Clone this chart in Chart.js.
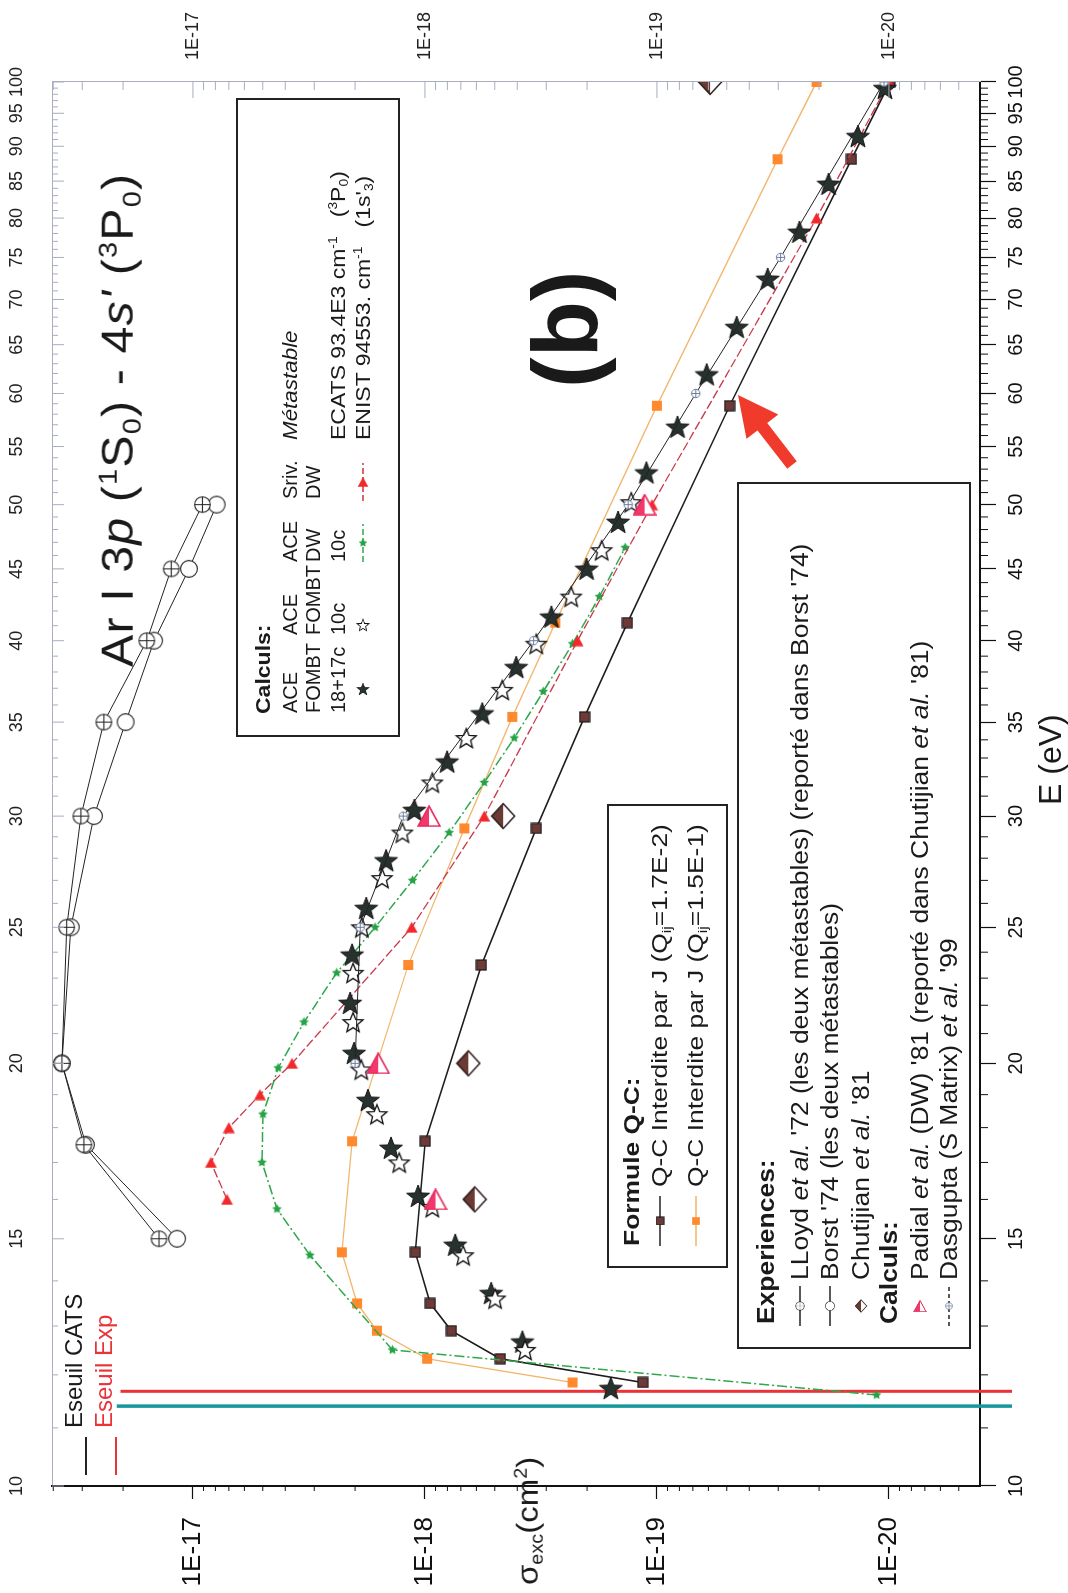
<!DOCTYPE html>
<html>
<head>
<meta charset="utf-8">
<script src="https://cdn.jsdelivr.net/npm/chart.js@4.4.1/dist/chart.umd.min.js"></script>
<style>
html, body { margin: 0; padding: 0; background: #fff; overflow: hidden; }
#page {
    position: absolute; left: 0; top: 0; width: 1593px; height: 1068px;
    transform-origin: 0 0; transform: translateY(1593px) rotate(-90deg);
    font-family: "Liberation Sans", Arial, sans-serif; color: #1a1a1a;
}
#chart { position: absolute; left: 0; top: 0; }
.t { position: absolute; white-space: nowrap; transform: translateY(-50%); transform-origin: 0 50%; line-height: 1.15; }
.box { position: absolute; border: 2px solid #222; background: #fff; }
sup { font-size: 0.6em; vertical-align: 0.6em; line-height: 0; }
sub { font-size: 0.6em; vertical-align: -0.3em; line-height: 0; }
canvas.ic { position: absolute; transform: translateY(-50%); }
</style>
</head>
<body>
<div id="page">
    <canvas id="chart" width="1593" height="1068"></canvas>
</div>
<script>
// axis ticks
const eTicks = [10, 15, 20, 25, 30, 35, 40, 45, 50, 55, 60, 65, 70, 75, 80, 85, 90, 95, 100];
const sigmaTicks = [1e-20, 1e-19, 1e-18, 1e-17];
const SMIN = 4.05e-21, SMAX = 4.05e-17;

// Experiences
const lloydE = [15, 17.5, 20, 25, 30, 35, 40, 45, 50];
const lloydSigma = [1.40e-17, 2.95e-17, 3.67e-17, 3.50e-17, 3.04e-17, 2.42e-17, 1.58e-17, 1.24e-17, 9.1e-18];
const borstE = [15, 17.5, 20, 25, 30, 35, 40, 45, 50];
const borstSigma = [1.17e-17, 2.89e-17, 3.67e-17, 3.36e-17, 2.67e-17, 1.95e-17, 1.47e-17, 1.04e-17, 7.9e-18];
const chutijianE = [16, 20, 30, 100];
const chutijianSigma = [6.1e-19, 6.5e-19, 4.6e-19, 5.9e-20];

// Calculs (autres)
const padialE = [16, 20, 30, 50];
const padialSigma = [9.0e-19, 1.59e-18, 9.6e-19, 1.13e-19];
const dasguptaE = [20, 25, 30, 40, 50, 60, 75, 100];
const dasguptaSigma = [2.0e-18, 1.9e-18, 1.24e-18, 3.4e-19, 1.33e-19, 6.8e-20, 2.93e-20, 1.05e-20];

// Formule Q-C
const qcE = [11.85, 12.32, 12.9, 13.49, 14.67, 17.6, 23.5, 29.4, 35.3, 41.2, 58.8, 88.1, 100];
const qc17Sigma = [1.15e-19, 4.73e-19, 7.69e-19, 9.48e-19, 1.10e-18, 9.97e-19, 5.71e-19, 3.31e-19, 2.05e-19, 1.34e-19, 4.86e-20, 1.45e-20, 9.9e-21];
const qc15Sigma = [2.31e-19, 9.78e-19, 1.61e-18, 1.96e-18, 2.28e-18, 2.06e-18, 1.18e-18, 6.76e-19, 4.2e-19, 2.74e-19, 1.0e-19, 3.02e-20, 2.05e-20];

// ACE FOMBT 18+17c
const fombt18E = [11.74, 12.67, 13.72, 14.85, 16.09, 17.41, 18.83, 20.34, 22.08, 23.9, 25.8, 27.9, 30.3, 32.8, 35.5, 38.3, 41.6, 45.0, 48.6, 52.7, 56.8, 61.9, 66.9, 72.4, 78.2, 84.6, 91.5, 99];
const fombt18Sigma = [1.58e-19, 3.8e-19, 5.18e-19, 7.4e-19, 1.07e-18, 1.40e-18, 1.76e-18, 2.02e-18, 2.1e-18, 2.06e-18, 1.79e-18, 1.47e-18, 1.11e-18, 8.02e-19, 5.66e-19, 4.04e-19, 2.85e-19, 2.01e-19, 1.47e-19, 1.11e-19, 8.15e-20, 6.1e-20, 4.53e-20, 3.33e-20, 2.43e-20, 1.82e-20, 1.36e-20, 1.04e-20];
// ACE FOMBT 10c
const fombt10E = [12.5, 13.6, 14.6, 15.8, 17.0, 18.4, 19.8, 21.4, 23.2, 25.0, 27.1, 29.2, 31.7, 34.1, 36.9, 39.8, 43.0, 46.4, 50.2];
const fombt10Sigma = [3.7e-19, 4.98e-19, 6.84e-19, 9.29e-19, 1.29e-18, 1.61e-18, 1.88e-18, 2.04e-18, 2.04e-18, 1.87e-18, 1.53e-18, 1.25e-18, 9.29e-19, 6.63e-19, 4.64e-19, 3.31e-19, 2.34e-19, 1.73e-19, 1.29e-19];
// ACE DW 10c
const aceDwE = [11.61, 12.5, 14.6, 15.75, 17.0, 18.4, 19.85, 21.4, 23.2, 25.0, 27.0, 29.2, 31.7, 34.1, 36.8, 39.8, 43.0, 46.6];
const aceDwSigma = [1.13e-20, 1.38e-18, 3.13e-18, 4.34e-18, 5.04e-18, 4.99e-18, 4.29e-18, 3.32e-18, 2.4e-18, 1.64e-18, 1.13e-18, 7.86e-19, 5.55e-19, 4.12e-19, 3.09e-19, 2.31e-19, 1.77e-19, 1.37e-19];
// Sriv. DW
const srivE = [16, 17, 18, 19, 20, 25, 30, 40, 50, 80, 100];
const srivSigma = [7.13e-18, 8.36e-18, 7.0e-18, 5.14e-18, 3.74e-18, 1.14e-18, 5.55e-19, 2.2e-19, 1.05e-19, 2.05e-20, 1.0e-20];

// seuils (E, sigma range of the drawn line)
const seuilCatsE = [11.40, 11.40];
const seuilCatsSigma = [2.13e-17, 2.95e-21];
const seuilExpE = [11.68, 11.68];
const seuilExpSigma = [2.05e-17, 2.95e-21];

const FONT = '"Liberation Sans", Arial, sans-serif';

// ---- markers (drawn as they look on the page, rotated by the chart) ----
function marker(w, h, draw) {
    const c = document.createElement('canvas');
    c.width = w; c.height = h;
    draw(c.getContext('2d'), w / 2, h / 2);
    return c;
}
function starPath(g, cx, cy, R, r) {
    g.beginPath();
    for (let i = 0; i < 10; i++) {
        const a = -Math.PI / 2 + i * Math.PI / 5;
        const rr = i % 2 ? r : R;
        g.lineTo(cx + rr * Math.cos(a), cy + rr * Math.sin(a));
    }
    g.closePath();
}
const mkStarFull = marker(26, 26, (g, cx, cy) => {
    starPath(g, cx, cy + 1, 12, 5);
    g.fillStyle = '#27312d'; g.fill();
    g.strokeStyle = '#111'; g.lineWidth = 1; g.stroke();
});
const mkStarOpen = marker(24, 24, (g, cx, cy) => {
    starPath(g, cx, cy + 1, 10.5, 4.6);
    g.fillStyle = '#fff'; g.fill();
    g.strokeStyle = '#111'; g.lineWidth = 1.3; g.stroke();
});
const mkGreen = marker(11, 11, (g, cx, cy) => {
    starPath(g, cx, cy, 5, 2.6);
    g.fillStyle = '#26a345'; g.fill();
});
const mkSriv = marker(13, 12, (g) => {
    g.beginPath(); g.moveTo(6.5, 0.5); g.lineTo(12.5, 11.5); g.lineTo(0.5, 11.5); g.closePath();
    g.fillStyle = '#f2282a'; g.fill();
});
const mkPadial = marker(24, 22, (g) => {
    g.beginPath(); g.moveTo(12, 1); g.lineTo(23, 21); g.lineTo(1, 21); g.closePath();
    g.fillStyle = '#fff'; g.fill();
    g.beginPath(); g.moveTo(12, 1); g.lineTo(12, 21); g.lineTo(1, 21); g.closePath();
    g.fillStyle = '#f2386c'; g.fill();
    g.beginPath(); g.moveTo(12, 1); g.lineTo(23, 21); g.lineTo(1, 21); g.closePath();
    g.strokeStyle = '#e62a5c'; g.lineWidth = 1.6; g.stroke();
});
const mkChut = marker(26, 28, (g) => {
    g.beginPath(); g.moveTo(13, 1.5); g.lineTo(24.5, 14); g.lineTo(13, 26.5); g.lineTo(1.5, 14); g.closePath();
    g.fillStyle = '#fff'; g.fill();
    g.beginPath(); g.moveTo(13, 1.5); g.lineTo(13, 26.5); g.lineTo(1.5, 14); g.closePath();
    g.fillStyle = '#6a3a33'; g.fill();
    g.beginPath(); g.moveTo(13, 1.5); g.lineTo(24.5, 14); g.lineTo(13, 26.5); g.lineTo(1.5, 14); g.closePath();
    g.strokeStyle = '#2a1a18'; g.lineWidth = 1.5; g.stroke();
});
const mkQc17 = marker(12, 12, (g) => {
    g.fillStyle = '#6d3a37'; g.fillRect(1, 1, 10, 10);
    g.strokeStyle = '#1a1a1a'; g.lineWidth = 1.2; g.strokeRect(1, 1, 10, 10);
});
const mkQc15 = marker(12, 12, (g) => {
    g.fillStyle = '#ff8a2e'; g.fillRect(1, 1, 10, 10);
});
function circleCross(size, r, color, lw, cross) {
    return marker(size, size, (g, cx, cy) => {
        g.beginPath(); g.arc(cx, cy, r, 0, Math.PI * 2);
        g.fillStyle = '#fff'; g.fill();
        g.strokeStyle = color; g.lineWidth = lw; g.stroke();
        if (cross) {
            g.beginPath();
            g.moveTo(cx - r, cy); g.lineTo(cx + r, cy);
            g.moveTo(cx, cy - r); g.lineTo(cx, cy + r);
            g.stroke();
        }
    });
}
const mkLloyd = circleCross(19, 7.8, '#222', 1.1, true);
const mkBorst = circleCross(20, 8.4, '#222', 1.1, false);
const mkDasgupta = circleCross(11, 4.2, '#6d7c9c', 1, true);

function series(label, xs, ys, o) {
    return Object.assign({
        label: label,
        data: xs.map((x, i) => ({ x: x, y: ys[i] })),
        showLine: true, fill: false, tension: 0,
        pointRotation: 90, pointRadius: 6, pointHoverRadius: 0
    }, o);
}

const datasets = [
    series('Padial', padialE, padialSigma, { showLine: false, pointStyle: mkPadial, pointRadius: 11 }),
    series('Chutijian', chutijianE, chutijianSigma, { showLine: false, pointStyle: mkChut, pointRadius: 13 }),
    series('Dasgupta', dasguptaE, dasguptaSigma, { borderColor: '#222', borderWidth: 1, pointStyle: mkDasgupta, pointRadius: 5 }),
    series('ACE FOMBT 10c', fombt10E, fombt10Sigma, { showLine: false, pointStyle: mkStarOpen, pointRadius: 11 }),
    series('ACE FOMBT 18+17c', fombt18E, fombt18Sigma, { showLine: false, pointStyle: mkStarFull, pointRadius: 12 }),
    series('Sriv DW', srivE, srivSigma, { borderColor: '#c8384a', borderWidth: 1.3, borderDash: [9, 3], pointStyle: mkSriv, pointRadius: 6 }),
    series('ACE DW 10c', aceDwE, aceDwSigma, { borderColor: '#2fa84c', borderWidth: 1.5, borderDash: [10, 3, 2, 3], pointStyle: mkGreen, pointRadius: 5 }),
    series('Q-C 1.7E-2', qcE, qc17Sigma, { borderColor: '#1d1d1d', borderWidth: 1.6, pointStyle: mkQc17, pointRadius: 6 }),
    series('Q-C 1.5E-1', qcE, qc15Sigma, { borderColor: '#f2b56a', borderWidth: 1.3, pointStyle: mkQc15, pointRadius: 6 }),
    series('LLoyd', lloydE, lloydSigma, { borderColor: '#222', borderWidth: 1, pointStyle: mkLloyd, pointRadius: 9 }),
    series('Borst', borstE, borstSigma, { borderColor: '#222', borderWidth: 1, pointStyle: mkBorst, pointRadius: 9 }),
    series('Eseuil Exp', seuilExpE, seuilExpSigma, { borderColor: '#ea3238', borderWidth: 3, pointRadius: 0, clip: false }),
    series('Eseuil CATS', seuilCatsE, seuilCatsSigma, { borderColor: '#17979c', borderWidth: 3.5, pointRadius: 0, clip: false })
];

// minor and inward ticks, drawn from the chart's own scales
const eMinor = [];
for (let v = 11; v < 100; v++) if (v % 5) eMinor.push(v);
const sMinor = [];
[-21, -20, -19, -18, -17].forEach(d => [2, 3, 4, 5, 6, 7, 8, 9].forEach(k => {
    const v = k * Math.pow(10, d);
    if (v > SMIN && v < SMAX) sMinor.push(v);
}));

const minorTicks = {
    id: 'minorTicks',
    afterDraw(chart) {
        const { ctx, scales, chartArea: a } = chart;
        const seg = (x1, y1, x2, y2) => { ctx.beginPath(); ctx.moveTo(x1, y1); ctx.lineTo(x2, y2); ctx.stroke(); };
        ctx.save();
        ctx.lineWidth = 1;
        ctx.strokeStyle = '#111';
        eMinor.forEach(v => { const p = scales.x.getPixelForValue(v); seg(p, a.bottom, p, a.bottom + 8); });
        sMinor.forEach(v => { const p = scales.y.getPixelForValue(v); seg(a.left - 5, p, a.left, p); });
        ctx.strokeStyle = '#a9adc0';
        eMinor.forEach(v => { const p = scales.x2.getPixelForValue(v); seg(p, a.top, p, a.top + 6); });
        eTicks.forEach(v => { const p = scales.x2.getPixelForValue(v); seg(p, a.top, p, a.top + 12); });
        sMinor.forEach(v => { const p = scales.y2.getPixelForValue(v); seg(a.right - 8, p, a.right, p); });
        sigmaTicks.forEach(v => { const p = scales.y2.getPixelForValue(v); seg(a.right - 16, p, a.right, p); });
        ctx.restore();
    }
};

const eLabel = v => String(v);
const sLabel = v => '1E' + Math.round(Math.log10(v));

new Chart(document.getElementById('chart'), {
    type: 'scatter',
    data: { datasets: datasets },
    options: {
        responsive: false,
        animation: false,
        devicePixelRatio: 1,
        layout: { padding: 0 },
        plugins: { legend: { display: false }, tooltip: { enabled: false } },
        scales: {
            x: {
                type: 'logarithmic', position: 'bottom', min: 10, max: 100,
                afterBuildTicks: s => { s.ticks = eTicks.map(v => ({ value: v })); },
                afterFit: s => { s.height = 88; },
                grid: { drawOnChartArea: false, tickLength: 16, tickColor: '#111', tickWidth: 1.2 },
                border: { color: '#111', width: 2 },
                ticks: { autoSkip: false, maxRotation: 0, padding: 8, color: '#111', font: { family: FONT, size: 20 }, callback: eLabel }
            },
            x2: {
                type: 'logarithmic', position: 'top', min: 10, max: 100,
                afterBuildTicks: s => { s.ticks = eTicks.map(v => ({ value: v })); },
                afterFit: s => { s.height = 52; },
                grid: { drawOnChartArea: false, drawTicks: false },
                border: { color: '#a9adc0', width: 1 },
                ticks: { autoSkip: false, maxRotation: 0, padding: 24, color: '#222', font: { family: FONT, size: 18 }, callback: eLabel }
            },
            y: {
                type: 'logarithmic', position: 'left', min: SMIN, max: SMAX,
                afterBuildTicks: s => { s.ticks = sigmaTicks.map(v => ({ value: v })); },
                afterFit: s => { s.width = 107; },
                grid: { drawOnChartArea: false, tickLength: 13, tickColor: '#111', tickWidth: 1.2 },
                border: { color: '#111', width: 2 },
                ticks: { autoSkip: false, padding: 18, color: '#111', font: { family: FONT, size: 26 }, callback: sLabel }
            },
            y2: {
                type: 'logarithmic', position: 'right', min: SMIN, max: SMAX,
                afterBuildTicks: s => { s.ticks = sigmaTicks.map(v => ({ value: v })); },
                afterFit: s => { s.width = 82; },
                grid: { drawOnChartArea: false, drawTicks: false },
                border: { color: '#a9adc0', width: 1 },
                ticks: { autoSkip: false, padding: 22, color: '#222', font: { family: FONT, size: 18 }, callback: sLabel }
            }
        }
    },
    plugins: [minorTicks]
});

// ---- text and legend boxes ----
const page = document.getElementById('page');
function txt(parent, x, y, html, style, stretch) {
    const d = document.createElement('div');
    d.className = 't';
    d.style.left = x + 'px';
    d.style.top = y + 'px';
    d.innerHTML = html;
    Object.assign(d.style, style || {});
    if (stretch) d.style.transform = 'translateY(-50%) scaleX(' + stretch + ')';
    parent.appendChild(d);
    return d;
}
function box(x, y, w, h) {
    const d = document.createElement('div');
    d.className = 'box';
    Object.assign(d.style, { left: x + 'px', top: y + 'px', width: w + 'px', height: h + 'px' });
    page.appendChild(d);
    return d;
}
function icon(parent, x, y, w, h, color, dash, mk, scale, lw) {
    const c = document.createElement('canvas');
    c.className = 'ic';
    c.width = w; c.height = h;
    c.style.left = x + 'px'; c.style.top = y + 'px';
    const g = c.getContext('2d');
    if (color) {
        g.strokeStyle = color; g.lineWidth = lw || 1.3; g.setLineDash(dash || []);
        g.beginPath(); g.moveTo(0, h / 2); g.lineTo(w, h / 2); g.stroke();
    }
    if (mk) {
        const s = scale || 1;
        g.save(); g.translate(w / 2, h / 2); g.rotate(Math.PI / 2);
        g.drawImage(mk, -mk.width * s / 2, -mk.height * s / 2, mk.width * s, mk.height * s);
        g.restore();
    }
    parent.appendChild(c);
    return c;
}

// title and panel label
txt(page, 926, 118, 'Ar I 3<i>p</i> (<sup>1</sup>S<sub>0</sub>) - 4<i>s\'</i> (<sup>3</sup>P<sub>0</sub>)', { fontSize: '44px', letterSpacing: '1px' }, 1.1);
txt(page, 1205, 566, '(b)', { fontSize: '92px', fontWeight: 'bold' });

// Calculs box
const calc = box(856, 236, 635, 160);
const cc = [22, 100, 173, 236, 295];
const cr = [25, 52, 75, 100, 125];
const cs = { fontSize: '20px' };
txt(calc, 21, cr[0], '<b>Calculs:</b>', cs, 1.15);
['ACE', 'ACE', 'ACE', 'Sriv.'].forEach((s, i) => txt(calc, cc[i], cr[1], s, cs));
txt(calc, cc[4], cr[1], '<i>Métastable</i>', cs, 1.12);
['FOMBT', 'FOMBT', 'DW', 'DW'].forEach((s, i) => txt(calc, cc[i], cr[2], s, cs));
['18+17c', '10c', '10c'].forEach((s, i) => txt(calc, cc[i], cr[3], s, cs));
txt(calc, cc[4], cr[3], 'ECATS 93.4E3 cm<sup>-1</sup>&nbsp;&nbsp; (<sup>3</sup>P<sub>0</sub>)', cs, 1.15);
icon(calc, cc[0] + 16, cr[4], 16, 16, null, null, mkStarFull, 0.55);
icon(calc, cc[1] + 2, cr[4], 16, 16, null, null, mkStarOpen, 0.6);
icon(calc, cc[2], cr[4], 38, 12, '#2fa84c', [6, 3], mkGreen, 0.9);
icon(calc, cc[3] - 2, cr[4], 38, 14, '#d03040', [6, 3], mkSriv, 0.9);
txt(calc, cc[4], cr[4], 'ENIST 94553. cm<sup>-1</sup>&nbsp;&nbsp; (1s\'<sub>3</sub>)', cs, 1.15);

// Formule Q-C box
const qc = box(325, 607, 460, 117);
const qs = { fontSize: '22px' };
txt(qc, 20, 23, '<b>Formule Q-C:</b>', qs, 1.2);
icon(qc, 20, 51, 50, 12, '#222', null, mkQc17, 0.75);
txt(qc, 79, 51, 'Q-C Interdite par J (Q<sub>ij</sub>=1.7E-2)', qs, 1.2);
icon(qc, 20, 87, 50, 12, '#f2b56a', null, mkQc15, 0.75);
txt(qc, 79, 87, 'Q-C Interdite par J (Q<sub>ij</sub>=1.5E-1)', qs, 1.2);

// Experiences box
const ex = box(244, 737, 863, 230);
const es = { fontSize: '23px' };
const ES = 1.15;
txt(ex, 23, 27, '<b>Experiences:</b>', es, ES);
icon(ex, 21, 61, 40, 12, '#222', null, mkLloyd, 0.55);
txt(ex, 67, 61, 'LLoyd <i>et al.</i> \'72 (les deux métastables) (reporté dans Borst \'74)', es, ES);
icon(ex, 21, 91, 40, 12, '#222', null, mkBorst, 0.55);
txt(ex, 67, 91, 'Borst \'74 (les deux métastables)', es, ES);
icon(ex, 33, 122, 16, 16, null, null, mkChut, 0.5);
txt(ex, 67, 122, 'Chutijian <i>et al.</i> \'81', es, ES);
txt(ex, 23, 150, '<b>Calculs:</b>', es, ES);
icon(ex, 33, 181, 16, 16, null, null, mkPadial, 0.55);
txt(ex, 67, 181, 'Padial <i>et al.</i> (DW) \'81 (reporté dans Chutijian <i>et al.</i> \'81)', es, ES);
icon(ex, 21, 210, 40, 12, '#222', [4, 3], mkDasgupta, 0.8);
txt(ex, 67, 210, 'Dasgupta (S Matrix) <i>et al.</i> \'99', es, ES);

// threshold legend
icon(page, 118, 86, 38, 4, '#222', null, null, 1, 2);
txt(page, 165, 74, 'Eseuil CATS', { fontSize: '24px' });
icon(page, 118, 116, 38, 4, '#ea3238', null, null, 1, 2);
txt(page, 165, 104, 'Eseuil Exp', { fontSize: '24px', color: '#ea3238' });

// axis titles
txt(page, 8, 528, '&sigma;<sub>exc</sub>(cm<sup>2</sup>)', { fontSize: '30px' }, 1.1);
txt(page, 788, 1050, 'E (eV)', { fontSize: '32px' });

// red arrow
const svgNS = 'http://www.w3.org/2000/svg';
const svg = document.createElementNS(svgNS, 'svg');
svg.setAttribute('width', '1593'); svg.setAttribute('height', '1068');
svg.style.position = 'absolute'; svg.style.left = '0'; svg.style.top = '0';
const arrow = document.createElementNS(svgNS, 'polygon');
arrow.setAttribute('points', '1198,738 1178.5,778.2 1170,767.2 1131.7,796.8 1124.3,787.2 1162.6,757.6 1154.1,746.6');
arrow.setAttribute('fill', '#f03a2c');
svg.appendChild(arrow);
page.appendChild(svg);
</script>
</body>
</html>
